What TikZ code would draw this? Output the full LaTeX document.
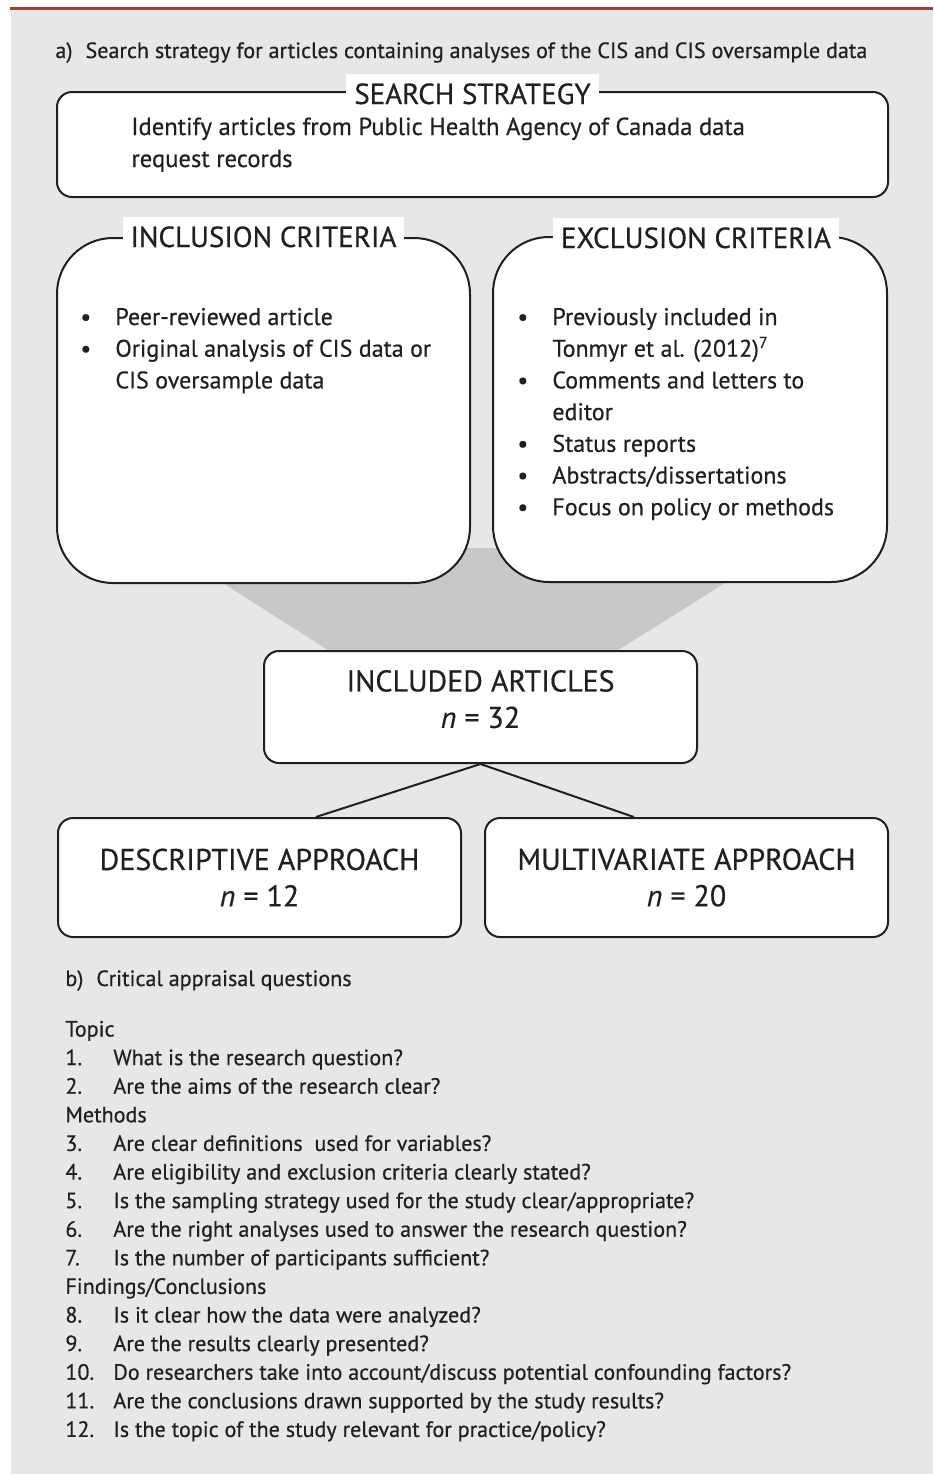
\documentclass[tikz,border=0pt]{standalone}
\usepackage{fontspec}
\setmainfont{PT Sans}[UprightFeatures={FakeBold=0.5}, ItalicFeatures={FakeBold=0.5}]
\usetikzlibrary{positioning}
\definecolor{panelgray}{RGB}{230,231,232}
\definecolor{funnelgray}{RGB}{199,200,202}
\definecolor{rulered}{RGB}{163,59,54}
\definecolor{ink}{RGB}{35,31,32}
\newcommand{\bodysize}{\fontsize{12}{15.85}\selectfont}
\newcommand{\leadsize}{\fontsize{12.3}{16}\selectfont}
\newcommand{\listsize}{\fontsize{11.05}{14.3}\selectfont}
\newcommand{\titlesize}{\fontsize{14.5}{17}\selectfont}
\newcommand{\countsize}{\fontsize{15}{18.2}\selectfont}

\begin{document}
\begin{tikzpicture}[x=0.5pt,y=-0.5pt,
    box/.style={draw=ink, line width=1pt, rounded corners=7.5pt, fill=white},
    bigbox/.style={draw=ink, line width=1pt, rounded corners=28pt, fill=white},
    boxtitle/.style={fill=white, text=ink, font=\titlesize, anchor=base, inner xsep=4pt, inner ysep=1pt, text height=14pt, text depth=0pt},
    txt/.style={text=ink, font=\bodysize, inner sep=0pt, anchor=base west},
    countbox/.style={box, text=ink, font=\countsize, align=center},
    link/.style={draw=ink, line width=1pt}]
    \useasboundingbox (0,0) rectangle (933,1474);
    \fill[white] (0,0) rectangle (933,1474);
    \fill[panelgray] (11,10) rectangle (933,1474);
    \draw[rulered, line width=1.5pt] (10,8.5) -- (933,8.5);

    \draw (55,58) node [txt, font=\listsize] (parta) {a)\hspace{6.5pt}Search strategy for articles containing analyses of the CIS and CIS oversample data};

    \fill[funnelgray] (168,548) -- (781,548) -- (615,652) -- (331,652) -- cycle;

    \draw (472.5,144.5) node [box, minimum width=415.5pt, minimum height=52.5pt] (search) {};
    \draw ([yshift=-6.5pt]search.north) node [boxtitle] (search title) {SEARCH STRATEGY};
    \draw (131,135) node [txt, font=\leadsize] (search text) {\begin{tabular}[t]{@{}l@{}}
        Identify articles from Public Health Agency of Canada data\\
        request records
    \end{tabular}};

    \draw (263.5,410.5) node [bigbox, minimum width=206.5pt, minimum height=172.5pt] (incl) {};
    \draw ([yshift=-5pt]incl.north) node [boxtitle] (incl title) {INCLUSION CRITERIA};
    \draw (80,325) node [txt] (incl list) {\begin{tabular}[t]{@{}p{17.5pt}@{}l@{}}
        \textbullet & Peer-reviewed article\\
        \textbullet & Original analysis of CIS data or\\
                    & CIS oversample data
    \end{tabular}};

    \draw (690,409.5) node [bigbox, minimum width=197pt, minimum height=172.5pt] (excl) {};
    \draw ([xshift=3pt,yshift=-6pt]excl.north) node [boxtitle] (excl title) {EXCLUSION CRITERIA};
    \draw (517,325) node [txt] (excl list) {\begin{tabular}[t]{@{}p{17.5pt}@{}l@{}}
        \textbullet & Previously included in\\
                    & Tonmyr et al. (2012)\textsuperscript{7}\\
        \textbullet & Comments and letters to\\
                    & editor\\
        \textbullet & Status reports\\
        \textbullet & Abstracts/dissertations\\
        \textbullet & Focus on policy or methods
    \end{tabular}};

    \draw (480.5,707) node [countbox, minimum width=216.5pt, minimum height=56pt, text depth=8pt] (included) {INCLUDED ARTICLES\\\textit{n} = 32};
    \draw (259.5,877.5) node [countbox, minimum width=201.5pt, minimum height=59.5pt] (desc) {DESCRIPTIVE APPROACH\\\textit{n} = 12};
    \draw (686.5,877.5) node [countbox, minimum width=201.5pt, minimum height=59.5pt] (multi) {MULTIVARIATE APPROACH\\\textit{n} = 20};

    \draw[link] (included.south) -- (desc.47);
    \draw[link] (included.south) -- (multi.131);

    \draw (65,986) node [txt, font=\listsize] (partb) {b)\hspace{6.5pt}Critical appraisal questions};
    \draw (65,1036.5) node [txt, font=\listsize] (questions) {\begin{tabular}[t]{@{}p{24pt}@{}l@{}}
        \multicolumn{2}{@{}l@{}}{Topic}\\
        1. & What is the research question?\\
        2. & Are the aims of the research clear?\\
        \multicolumn{2}{@{}l@{}}{Methods}\\
        3. & Are clear definitions\ \ used for variables?\\
        4. & Are eligibility and exclusion criteria clearly stated?\\
        5. & Is the sampling strategy used for the study clear/appropriate?\\
        6. & Are the right analyses used to answer the research question?\\
        7. & Is the number of participants sufficient?\\
        \multicolumn{2}{@{}l@{}}{Findings/Conclusions}\\
        8. & Is it clear how the data were analyzed?\\
        9. & Are the results clearly presented?\\
        10. & Do researchers take into account/discuss potential confounding factors?\\
        11. & Are the conclusions drawn supported by the study results?\\
        12. & Is the topic of the study relevant for practice/policy?
    \end{tabular}};
\end{tikzpicture}
\end{document}
